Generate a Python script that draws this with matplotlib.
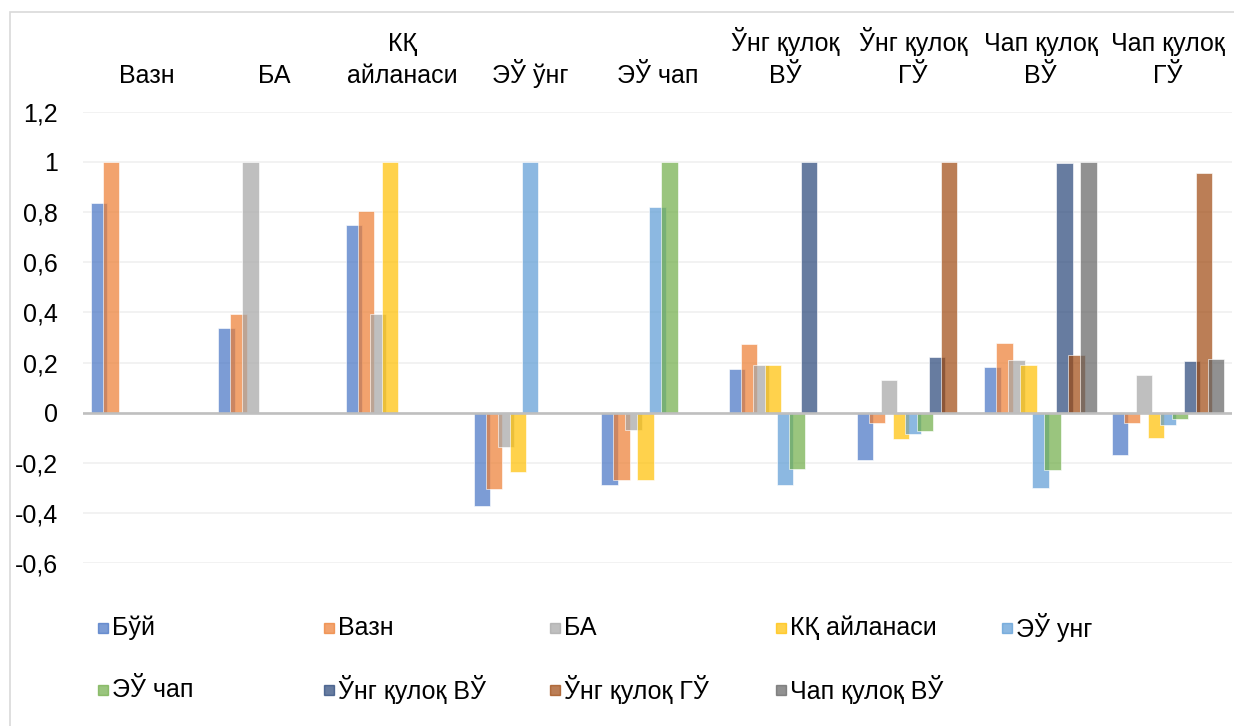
import numpy as np
import matplotlib
matplotlib.use("Agg")
from matplotlib import pyplot as plt
from matplotlib.patches import Rectangle

plt.rcParams['font.family'] = ['Liberation Sans', 'DejaVu Sans']

# категорії (підписи зверху)
categories = ['Вазн', 'БА', 'КҚ\nайланаси', 'ЭЎ ўнг', 'ЭЎ чап',
              'Ўнг қулоқ\nВЎ', 'Ўнг қулоқ\nГЎ', 'Чап қулоқ\nВЎ', 'Чап қулоқ\nГЎ']

series_names = ['Бўй', 'Вазн', 'БА', 'КҚ айланаси', 'ЭЎ унг', 'ЭЎ чап',
                'Ўнг қулоқ ВЎ', 'Ўнг қулоқ ГЎ', 'Чап қулоқ ВЎ']

nan = np.nan
buy = [0.838, 0.339, 0.747, -0.37, -0.287, 0.174, -0.187, 0.181, -0.17]
vazn = [1, 0.392, 0.803, -0.305, -0.268, 0.274, -0.04, 0.279, -0.04]
ba = [nan, 1, 0.393, -0.135, -0.067, 0.19, 0.129, 0.209, 0.149]
kk_aylanasi = [nan, nan, 1, -0.236, -0.268, 0.19, -0.103, 0.19, -0.10]
eu_ung = [nan, nan, nan, 1, 0.822, -0.286, -0.085, -0.30, -0.047]
eu_chap = [nan, nan, nan, nan, 1, -0.226, -0.071, -0.23, -0.026]
ung_vu = [nan, nan, nan, nan, nan, 1, 0.222, 0.994, 0.206]
ung_gu = [nan, nan, nan, nan, nan, nan, 1, 0.229, 0.954]
chap_vu = [nan, nan, nan, nan, nan, nan, nan, 1, 0.214]

series = [buy, vazn, ba, kk_aylanasi, eu_ung, eu_chap, ung_vu, ung_gu, chap_vu]

colors = ['#4472C4', '#ED7D31', '#A5A5A5', '#FFC000', '#5B9BD5',
          '#70AD47', '#264478', '#9E480E', '#636363']

W, H = 1234, 726
FS = 18
fig = plt.figure(figsize=(W / 100, H / 100), dpi=100)
ax = fig.add_axes([83 / W, 1 - 563.3 / H, (1232 - 83) / W, (563.3 - 111.7) / H])

x = np.arange(len(categories))
step = 0.094
width = 0.13
for i, vals in enumerate(series):
    ax.bar(x + (i - 4) * step, vals, width=width, color=colors[i], alpha=0.7,
           edgecolor=(1, 1, 1, 0.6), linewidth=0.6, zorder=2)

ax.set_xlim(-0.5, len(categories) - 0.5)
ax.set_ylim(-0.6, 1.2)
yt = np.arange(-0.6, 1.21, 0.2)
ax.set_yticks(yt)
ax.set_yticklabels([('%g' % round(v, 1)).replace('.', ',') for v in yt], fontsize=FS)
ax.yaxis.grid(True, color='#F0F0F0', linewidth=1.2, zorder=0)
ax.set_axisbelow(True)
ax.axhline(0, color='#BFBFBF', linewidth=1.9, zorder=3)

ax.xaxis.tick_top()
ax.set_xticks(x)
ax.set_xticklabels(categories, fontsize=FS, linespacing=1.45)
ax.tick_params(axis='x', length=0, pad=17)
ax.tick_params(axis='y', length=0, pad=18)
for s in ax.spines.values():
    s.set_visible(False)

# легенда вручну: 5 колонок, 2 рядки
for i, name in enumerate(series_names):
    col, row = i % 5, i // 5
    lx = 98 + col * 226
    ly = 628 + row * 62
    fig.patches.append(Rectangle((lx / W, 1 - (ly + 5) / H), 10 / W, 10 / H,
                                 transform=fig.transFigure, color=colors[i], alpha=0.7))
    fig.text((lx + 14) / W, 1 - ly / H, name, fontsize=FS, va='center', ha='left')

# рамка діаграми
fig.patches.append(Rectangle((10 / W, -0.1), 1.2, 1.1 - 12 / H, transform=fig.transFigure,
                             fill=False, edgecolor='#D9D9D9', linewidth=1.2))

fig.savefig('out.png', dpi=100)
